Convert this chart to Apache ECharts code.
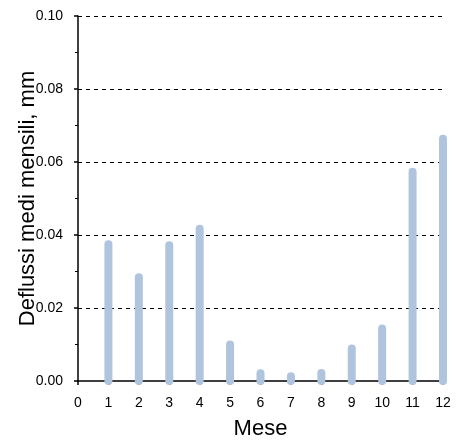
<!DOCTYPE html>
<html>
<head>
<meta charset="utf-8">
<script src="https://cdn.jsdelivr.net/npm/echarts@6/dist/echarts.min.js"></script>
<style>
  html, body { margin: 0; padding: 0; background: #fff; }
  #chart { width: 456px; height: 448px; }
</style>
</head>
<body>
<div id="chart"></div>
<script>
// mesi e deflussi medi mensili (mm)
var mesi = [1, 2, 3, 4, 5, 6, 7, 8, 9, 10, 11, 12];
var deflussi = [0.0375, 0.0284, 0.0372, 0.0417, 0.0100, 0.0021, 0.0013, 0.0022, 0.0089, 0.0144, 0.0573, 0.0664];

var font = 'Liberation Sans, Arial, sans-serif';

var chart = echarts.init(document.getElementById('chart'));
var option = {
    animation: false,
    grid: { left: 78, right: 13, top: 16, bottom: 67, containLabel: false, outerBoundsMode: 'none' },
    xAxis: {
        type: 'value',
        min: 0,
        max: 12,
        interval: 1,
        name: 'Mese',
        nameLocation: 'middle',
        nameGap: 37,
        nameMoveOverlap: false,
        nameTextStyle: { color: '#000', fontSize: 22, fontFamily: font },
        axisLine: { show: true, onZero: false, lineStyle: { color: '#000', width: 1.5 } },
        axisTick: { show: true, inside: false, length: 4, lineStyle: { color: '#000', width: 1.5 } },
        axisLabel: { color: '#000', fontSize: 14, fontFamily: font, margin: 15 },
        splitLine: { show: false }
    },
    yAxis: {
        type: 'value',
        min: 0,
        max: 0.1,
        interval: 0.02,
        name: 'Deflussi medi mensili, mm',
        nameLocation: 'middle',
        nameGap: 39,
        nameMoveOverlap: false,
        nameTextStyle: { color: '#000', fontSize: 22, fontFamily: font },
        axisLine: { show: true, lineStyle: { color: '#000', width: 1.5 } },
        axisTick: { show: true, inside: false, length: 4, lineStyle: { color: '#000', width: 1.5 } },
        minorTick: { show: true, splitNumber: 2, length: 3, lineStyle: { color: '#000', width: 1 } },
        axisLabel: {
            color: '#000', fontSize: 14, fontFamily: font, margin: 15,
            formatter: function (v) { return v.toFixed(2); }
        },
        splitLine: {
            show: true,
            showMinLine: false,
            lineStyle: { color: '#000', type: [4, 4], width: 1 }
        }
    },
    series: [{
        type: 'custom',
        clip: false,
        z: 1,
        data: mesi.map(function (m, i) { return [m, deflussi[i]]; }),
        renderItem: function (params, api) {
            var base = api.coord([api.value(0), 0]);
            var top = api.coord([api.value(0), api.value(1)]);
            return {
                type: 'line',
                shape: { x1: base[0], y1: base[1], x2: top[0], y2: top[1] },
                style: { stroke: '#b0c4de', lineWidth: 8, lineCap: 'round' }
            };
        }
    }]
};
chart.setOption(option);
</script>
</body>
</html>
